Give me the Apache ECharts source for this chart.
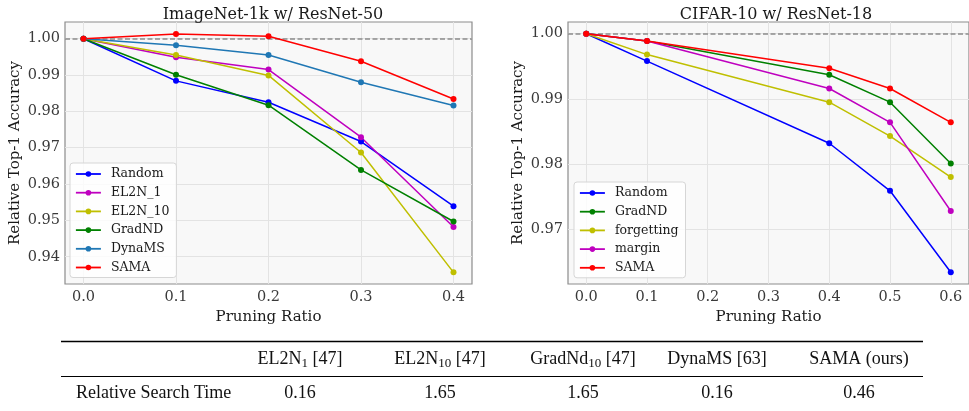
<!DOCTYPE html>
<html>
<head>
<meta charset="utf-8">
<script src="https://cdn.jsdelivr.net/npm/echarts@6/dist/echarts.min.js"></script>
<style>
  html, body { margin: 0; padding: 0; background: #fff; }
  #chart { width: 969px; height: 411px; }
</style>
</head>
<body>
<div id="chart"></div>
<script>
// ImageNet-1k w/ ResNet-50
const imagenetRatios = [0.0, 0.1, 0.2, 0.3, 0.4];
const imagenetRandom = [1.0, 0.9884, 0.9825, 0.9717, 0.9539];
const imagenetEl2n1 = [1.0, 0.9949, 0.9915, 0.9729, 0.9482];
const imagenetEl2n10 = [1.0, 0.9955, 0.9899, 0.9687, 0.9357];
const imagenetGradnd = [1.0, 0.9901, 0.9817, 0.9639, 0.9497];
const imagenetDynams = [1.0, 0.9982, 0.9955, 0.9880, 0.9816];
const imagenetSama = [1.0, 1.0013, 1.0007, 0.9938, 0.9834];

// CIFAR-10 w/ ResNet-18
const cifarRatios = [0.0, 0.1, 0.4, 0.5, 0.6];
const cifarRandom = [1.0, 0.9958, 0.9832, 0.9759, 0.9634];
const cifarGradnd = [1.0, 0.9989, 0.9937, 0.9895, 0.9801];
const cifarForgetting = [1.0, 0.9968, 0.9895, 0.9843, 0.9780];
const cifarMargin = [1.0, 0.9989, 0.9916, 0.9864, 0.9728];
const cifarSama = [1.0, 0.9989, 0.9947, 0.9916, 0.9864];

// tick labels
const imagenetXTicks = [0.0, 0.1, 0.2, 0.3, 0.4];
const imagenetYTicks = [0.94, 0.95, 0.96, 0.97, 0.98, 0.99, 1.00];
const cifarXTicks = [0.0, 0.1, 0.2, 0.3, 0.4, 0.5, 0.6];
const cifarYTicks = [0.97, 0.98, 0.99, 1.00];

// table
const tableHeaders = [
  'EL2N{sub|1} [47]',
  'EL2N{sub|10} [47]',
  'GradNd{sub|10} [47]',
  'DynaMS [63]',
  'SAMA (ours)'
];
const tableRowLabel = 'Relative Search Time';
const tableValues = ['0.16', '1.65', '1.65', '0.16', '0.46'];

const SERIF = 'DejaVu Serif';
const TIMES = 'Liberation Serif';

const colors = {
  Random: '#0000ff',
  EL2N_1: '#bf00bf',
  EL2N_10: '#bfbf00',
  GradND: '#008000',
  DynaMS: '#1f77b4',
  SAMA: '#ff0000',
  forgetting: '#bfbf00',
  margin: '#bf00bf'
};

const zip = (xs, ys) => xs.map((x, i) => [x, ys[i]]);

function lineSeries(name, xs, ys, idx, withRef) {
  const s = {
    name,
    type: 'line',
    xAxisIndex: idx,
    yAxisIndex: idx,
    data: zip(xs, ys),
    symbol: 'circle',
    symbolSize: 6,
    color: colors[name],
    lineStyle: { width: 1.5, color: colors[name] },
    itemStyle: { color: colors[name] },
    z: 3,
    animation: false
  };
  if (withRef) {
    s.markLine = {
      silent: true,
      symbol: 'none',
      label: { show: false },
      lineStyle: { color: '#8c8c8c', type: [5, 2.5], width: 1.5 },
      data: [{ yAxis: 1.0 }],
      z: 2
    };
  }
  return s;
}

function xAxis(idx, min, max, ticks) {
  return {
    type: 'value',
    gridIndex: idx,
    min,
    max,
    name: 'Pruning Ratio',
    nameLocation: 'middle',
    nameGap: 18,
    nameTextStyle: { fontFamily: SERIF, fontSize: 15, color: '#1a1a1a' },
    axisLine: { show: false },
    axisTick: { show: false, customValues: ticks },
    axisLabel: {
      customValues: ticks,
      formatter: v => v.toFixed(1),
      fontFamily: SERIF,
      fontSize: 14.5,
      color: '#3a3a3a',
      margin: 6
    },
    splitLine: { show: true, lineStyle: { color: '#e3e3e3', width: 1 } }
  };
}

function yAxis(idx, min, max, ticks, gap) {
  return {
    type: 'value',
    gridIndex: idx,
    min,
    max,
    name: 'Relative Top-1 Accuracy',
    nameLocation: 'middle',
    nameRotate: 90,
    nameGap: gap,
    nameTextStyle: { fontFamily: SERIF, fontSize: 15, color: '#1a1a1a' },
    axisLine: { show: false },
    axisTick: { show: false, customValues: ticks },
    axisLabel: {
      customValues: ticks,
      formatter: v => v.toFixed(2),
      fontFamily: SERIF,
      fontSize: 14.5,
      color: '#3a3a3a',
      margin: 5
    },
    splitLine: { show: true, lineStyle: { color: '#e3e3e3', width: 1 } }
  };
}

function legend(names, left, top) {
  return {
    orient: 'vertical',
    left,
    top,
    data: names,
    itemWidth: 25,
    itemHeight: 7,
    itemGap: 4.7,
    padding: [4, 7, 3, 5],
    backgroundColor: 'rgba(255,255,255,0.8)',
    borderColor: '#d6d6d6',
    borderWidth: 1,
    borderRadius: 3,
    lineStyle: { width: 1.8 },
    textStyle: { fontFamily: SERIF, fontSize: 12.5, lineHeight: 14, color: '#1a1a1a', padding: [0, 0, 0, 5] }
  };
}

const tableGraphics = [];
const colX = [300, 440, 583, 717, 859];
tableGraphics.push({ type: 'line', shape: { x1: 61, y1: 341.5, x2: 923, y2: 341.5 }, style: { stroke: '#000', lineWidth: 1.6 } });
tableGraphics.push({ type: 'line', shape: { x1: 61, y1: 376.5, x2: 923, y2: 376.5 }, style: { stroke: '#000', lineWidth: 1 } });
tableHeaders.forEach((h, i) => {
  tableGraphics.push({
    type: 'text',
    x: colX[i],
    y: 359,
    style: {
      text: h,
      align: 'center',
      verticalAlign: 'middle',
      fontFamily: TIMES,
      fontSize: 18,
      fill: '#111',
      rich: {
        sub: { fontFamily: TIMES, fontSize: 13, fill: '#111', padding: [9, 0, 0, 0] }
      }
    }
  });
  tableGraphics.push({
    type: 'text',
    x: colX[i],
    y: 393,
    style: { text: tableValues[i], align: 'center', verticalAlign: 'middle', fontFamily: TIMES, fontSize: 18, fill: '#111' }
  });
});
tableGraphics.push({
  type: 'text',
  x: 76,
  y: 393,
  style: { text: tableRowLabel, align: 'left', verticalAlign: 'middle', fontFamily: TIMES, fontSize: 18, fill: '#111' }
});

const option = {
  animation: false,
  backgroundColor: '#fff',
  title: [
    { text: 'ImageNet-1k w/ ResNet-50', left: 268, top: 2, textAlign: 'center',
      textStyle: { fontFamily: SERIF, fontSize: 16, fontWeight: 'normal', color: '#1a1a1a' } },
    { text: 'CIFAR-10 w/ ResNet-18', left: 771, top: 2, textAlign: 'center',
      textStyle: { fontFamily: SERIF, fontSize: 16, fontWeight: 'normal', color: '#1a1a1a' } }
  ],
  grid: [
    { left: 65, top: 22, width: 407, height: 262, show: true, backgroundColor: '#f8f8f8', borderColor: '#8c8c8c', borderWidth: 1.2 },
    { left: 568, top: 22, width: 407, height: 262, show: true, backgroundColor: '#f8f8f8', borderColor: '#8c8c8c', borderWidth: 1.2 }
  ],
  xAxis: [
    xAxis(0, -0.02, 0.42, imagenetXTicks),
    xAxis(1, -0.03, 0.63, cifarXTicks)
  ],
  yAxis: [
    yAxis(0, 0.9325, 1.0046, imagenetYTicks, 42),
    yAxis(1, 0.9616, 1.0018, cifarYTicks, 42)
  ],
  legend: [
    legend(['Random', 'EL2N_1', 'EL2N_10', 'GradND', 'DynaMS', 'SAMA'], 70, 163),
    legend(['Random', 'GradND', 'forgetting', 'margin', 'SAMA'], 574, 182)
  ],
  series: [
    lineSeries('Random', imagenetRatios, imagenetRandom, 0, true),
    lineSeries('EL2N_1', imagenetRatios, imagenetEl2n1, 0),
    lineSeries('EL2N_10', imagenetRatios, imagenetEl2n10, 0),
    lineSeries('GradND', imagenetRatios, imagenetGradnd, 0),
    lineSeries('DynaMS', imagenetRatios, imagenetDynams, 0),
    lineSeries('SAMA', imagenetRatios, imagenetSama, 0),
    lineSeries('Random', cifarRatios, cifarRandom, 1, true),
    lineSeries('GradND', cifarRatios, cifarGradnd, 1),
    lineSeries('forgetting', cifarRatios, cifarForgetting, 1),
    lineSeries('margin', cifarRatios, cifarMargin, 1),
    lineSeries('SAMA', cifarRatios, cifarSama, 1)
  ],
  graphic: tableGraphics
};

const chart = echarts.init(document.getElementById('chart'));
chart.setOption(option);
</script>
</body>
</html>
